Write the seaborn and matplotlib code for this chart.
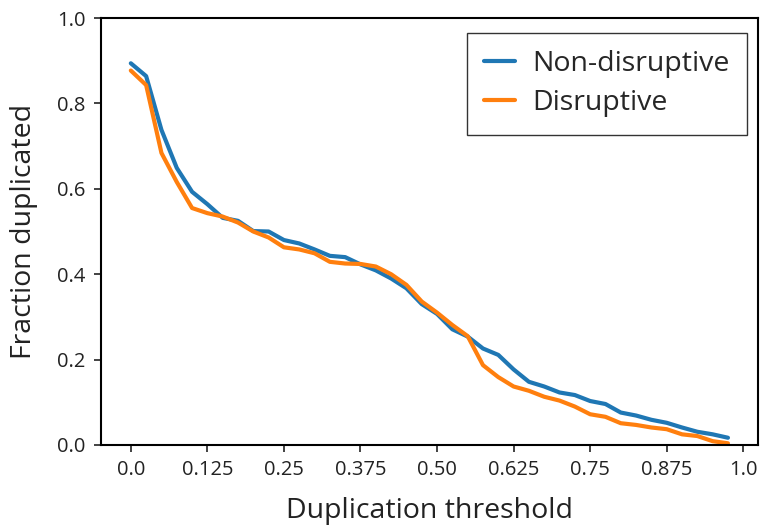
import numpy as np
import pandas as pd
import matplotlib
matplotlib.use("Agg")
import matplotlib.pyplot as plt
import seaborn as sns

thresholds = [round(0.025 * i, 3) for i in range(40)]
non_disruptive = [0.894, 0.864, 0.738, 0.649, 0.593, 0.564, 0.532, 0.525, 0.501, 0.500,
                  0.480, 0.472, 0.458, 0.443, 0.440, 0.423, 0.409, 0.390, 0.367, 0.330,
                  0.307, 0.271, 0.254, 0.226, 0.211, 0.177, 0.148, 0.137, 0.123, 0.117,
                  0.103, 0.096, 0.076, 0.069, 0.059, 0.052, 0.041, 0.031, 0.025, 0.017]
disruptive = [0.877, 0.843, 0.684, 0.616, 0.555, 0.543, 0.535, 0.521, 0.500, 0.486,
              0.463, 0.458, 0.449, 0.429, 0.425, 0.424, 0.418, 0.400, 0.375, 0.336,
              0.310, 0.281, 0.255, 0.187, 0.159, 0.137, 0.127, 0.113, 0.104, 0.090,
              0.072, 0.066, 0.051, 0.047, 0.041, 0.037, 0.025, 0.021, 0.009, 0.004]
series_names = ["Non-disruptive", "Disruptive"]
xtick_vals = [0.0, 0.125, 0.25, 0.375, 0.5, 0.625, 0.75, 0.875, 1.0]
xtick_labels = ["0.0", "0.125", "0.25", "0.375", "0.50", "0.625", "0.75", "0.875", "1.0"]
ytick_vals = [0.0, 0.2, 0.4, 0.6, 0.8, 1.0]

df = pd.DataFrame({
    "threshold": thresholds * 2,
    "fraction": non_disruptive + disruptive,
    "group": [series_names[0]] * len(thresholds) + [series_names[1]] * len(thresholds),
})

sns.set_style("ticks")
plt.rcParams["font.family"] = ["Open Sans", "DejaVu Sans"]

fig = plt.figure(figsize=(7.62, 5.27), dpi=100)
ax = fig.add_axes([0.1325, 0.1556, 0.862, 0.8102])

sns.lineplot(data=df, x="threshold", y="fraction", hue="group",
             palette=["#1f77b4", "#ff7f0e"], linewidth=3, ax=ax)

ax.set_ylim(0, 1.0)
ax.set_xticks(xtick_vals)
ax.set_xticklabels(xtick_labels)
ax.set_yticks(ytick_vals)
ax.set_yticklabels([f"{v:.1f}" for v in ytick_vals])
ax.tick_params(labelsize=14.5, width=1.2, length=5, pad=6, colors="#222222", labelcolor="#222222")
for s in ax.spines.values():
    s.set_linewidth(1.5)
    s.set_color("black")
    s.set_visible(True)
ax.set_xlabel("Duplication threshold", fontsize=20.5, labelpad=12, color="#222222")
ax.set_ylabel("Fraction duplicated", fontsize=20.5, labelpad=14, color="#222222")

leg = ax.legend(title=None, fontsize=20.5, loc="upper right", frameon=True,
                fancybox=False, borderpad=0.6, labelspacing=0.4, handlelength=1.1,
                handletextpad=0.6, borderaxespad=0.0,
                bbox_to_anchor=(0.983, 0.965))
leg.get_frame().set_edgecolor("black")
leg.get_frame().set_linewidth(1.0)
for line in leg.get_lines():
    line.set_linewidth(3)

fig.savefig("out.png", dpi=100)
